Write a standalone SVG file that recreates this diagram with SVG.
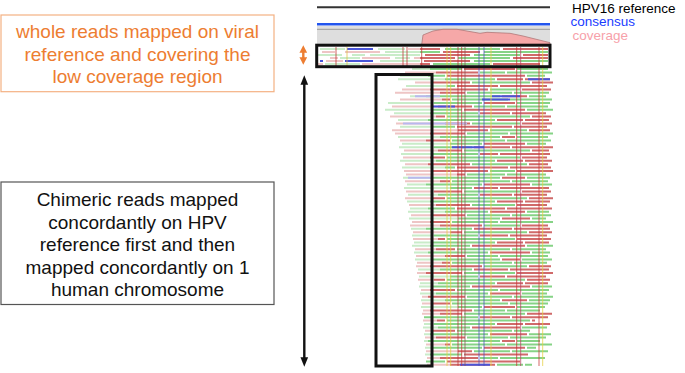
<svg xmlns="http://www.w3.org/2000/svg" width="685" height="373" viewBox="0 0 685 373">
<style>
.lbl{font-family:"Liberation Sans",Arial,sans-serif;font-size:19px;text-anchor:middle}
.leg{font-family:"Liberation Sans",Arial,sans-serif;font-size:13.5px}
.rd{fill:none;stroke-width:2}
.pg{stroke:#c9ecc9}.pr{stroke:#eec5c5}.g{stroke:#86d386}.r{stroke:#d06a6a}.b{stroke:#4a55d8}.pb{stroke:#b8b8ee}
.vl{stroke-width:1;opacity:0.75}
.hl{fill:none;stroke:#111;stroke-width:3}
</style>
<defs>
<marker id="ab" viewBox="0 0 10 10" refX="5" refY="5" markerWidth="4" markerHeight="4" orient="auto-start-reverse"><path d="M0,1 L10,5 L0,9 z" fill="#111"/></marker>
<marker id="ao" viewBox="0 0 10 10" refX="5" refY="5" markerWidth="3.2" markerHeight="3.2" orient="auto-start-reverse"><path d="M0,0 L10,5 L0,10 z" fill="#ED7D31"/></marker>
</defs>
<rect width="685" height="373" fill="#fff"/>

<g id="tracks">
<line x1="317" y1="7.3" x2="550" y2="7.3" stroke="#333" stroke-width="2"/>
<line x1="317" y1="24.3" x2="550" y2="24.3" stroke="#2255ee" stroke-width="2.6"/>
<rect x="317" y="26" width="233" height="18.5" fill="#dedede"/>
<line x1="317" y1="29.3" x2="550" y2="29.3" stroke="#999" stroke-width="1"/>
<path d="M421.7,44.5 L423,35 L433,31 L443,29.3 L457,29.3 L480,33.3 L487,32.3 L510,33.3 L523,36 L550,42.7 L550,44.5 Z" fill="#f6a8a8" stroke="#b07878" stroke-width="0.8"/>
<text class="leg" x="572" y="12.5" fill="#000">HPV16 reference</text>
<text class="leg" x="570.5" y="26" fill="#1a3cff">consensus</text>
<text class="leg" x="572.5" y="40" fill="#f7a1aa">coverage</text>
</g>

<g id="reads">
<path class="rd pg" d="M320 49H345M378 49H405M385 52H420M318 55H342M352 55H365M370 55H420M340 58H360M395 58H410M380 61H420M325 64H360
M412 69H430M400 75.8H428M398 79.2H445M406 86H447M410 96.2H426M388 103H434M385 109.8H431M394 113.2H430M398 120H428M400 126.8H432M398 137H440M402 143.8H450M399 147.2H434M401 154H431M400 160.8H436M402 167.6H445M403 177.8H430M407 184.6H426M404 188H450M408 194.8H438M407 201.6H430M410 208.4H428M408 211.8H445M409 218.6H458M411 228.8H426M412 235.6H434M414 242.4H431M412 245.8H430M414 252.6H428M415 259.4H432M418 269.6H440M419 276.4H450M420 283.2H438M419 286.6H431M420 293.4H436M421 300.2H445M421 307H458M424 324H434M423 327.4H438M424 334.2H430M424 341H428M425 347.8H432M425 354.6H430"/>
<path class="rd pr" d="M408 49H420M322 52H335M345 52H380M330 58H338M362 58H390M414 58H420M326 61H343M318 64H323M362 64H420
M405 72.4H436M415 82.6H432M402 89.4H430M395 92.8H440M400 99.6H442M392 106.4H438M390 116.6H436M396 123.4H445M392 130.2H458M395 133.6H430M400 140.4H426M404 150.6H438M403 157.4H430M405 164.2H428M404 171H432M406 174.4H457M405 181.2H440M406 191.4H434M405 198.2H431M409 205H436M411 215.2H432M412 222H430M410 225.4H440M413 232.2H450M413 239H438M415 249.2H436M416 256H445M417 262.8H442M416 266.2H430M417 273H426M418 279.8H434M421 290H430M422 296.8H428M422 303.6H432M423 310.4H430M422 313.8H440M423 320.6H437M425 330.8H431M425 337.6H436M426 344.4H445M426 351.2H458M427 358H440M427 364.8H450"/>
<path class="rd g" d="M445 49H500M420 52H440M484 52H548M474 55H520M458 58H510M474 61H548M433 64H490
M430 69H462M517 69H548M480 72.4H505M507 72.4H552M428 75.8H445M527 75.8H545M445 79.2H495M472 82.6H530M447 86H455M490 89.4H520M467 92.8H512M514 92.8H549M426 96.2H500M529 96.2H546M452 99.6H508M510 99.6H552
M434 103H482M517 103H550M474 106.4H505M507 106.4H548M431 109.8H462M527 109.8H553M430 113.2H478M447 116.6H530M428 120H495M472 123.4H520M432 126.8H455M490 130.2H527M467 133.6H508M510 133.6H553
M440 137H500M517 137H548M452 140.4H505M507 140.4H551M450 143.8H482M527 143.8H546M434 147.2H472M464 150.6H530M431 154H478M447 157.4H520M436 160.8H495M472 164.2H527M445 167.6H455
M490 171H515M467 174.4H505M507 174.4H546M430 177.8H500M527 177.8H550M452 181.2H510M512 181.2H548M426 184.6H482M532 184.6H552M450 188H472M464 191.4H520M438 194.8H478M447 198.2H527M430 201.6H495
M472 205H515M428 208.4H455M445 211.8H488M527 211.8H549M467 215.2H510M512 215.2H551M458 218.6H500M532 218.6H546M452 222H498M500 222H553M484 225.4H520M426 228.8H472M464 232.2H527M434 235.6H478
M447 239H515M431 242.4H495M430 245.8H470M527 245.8H553M457 249.2H510M512 249.2H546M428 252.6H488M532 252.6H550M467 256H498M500 256H548M432 259.4H500M522 259.4H552M452 262.8H512M514 262.8H547M484 266.2H527M440 269.6H472
M464 273H515M450 276.4H478M447 279.8H525M438 283.2H495M431 286.6H470M532 286.6H552M457 290H498M500 290H549M436 293.4H488M522 293.4H547M467 296.8H512M514 296.8H553M445 300.2H500M529 300.2H550M452 303.6H508M510 303.6H548
M458 307H482M517 307H545M474 310.4H505M507 310.4H540M464 313.8H525M424 317.2H478M447 320.6H530M434 324H495M438 327.4H470M522 327.4H547M457 330.8H512M514 330.8H530M430 334.2H488M529 334.2H551M467 337.6H508M510 337.6H546
M428 341H500M517 341H540M452 344.4H505M507 344.4H552M432 347.8H482M527 347.8H536M474 351.2H510M512 351.2H548M430 354.6H462M480 358H498M500 358H545M426 361.4H445M497 364.8H523M525 364.8H532"/>
<path class="rd r" d="M420 49H440M503 49H548M443 52H480M425 55H470M523 55H548M420 58H455M513 58H548M424 61H470M420 64H430M493 64H540
M464 69H515M436 72.4H478M447 75.8H525M497 79.2H523M525 79.2H550M432 82.6H470M532 82.6H553M457 86H498M500 86H547M430 89.4H488M522 89.4H551M440 92.8H465M502 96.2H527M442 99.6H450
M484 103H515M438 106.4H472M464 109.8H525M480 113.2H510M512 113.2H546M436 116.6H445M532 116.6H551M497 120H523M525 120H549M445 123.4H470M522 123.4H552M457 126.8H512M514 126.8H547M458 130.2H488M529 130.2H550M430 133.6H465
M502 137H515M426 140.4H450M484 143.8H525M474 147.2H510M512 147.2H553M438 150.6H462M532 150.6H549M480 154H498M500 154H550M430 157.4H445M522 157.4H547M497 160.8H523M525 160.8H552M428 164.2H470M529 164.2H548M457 167.6H508M510 167.6H551
M432 171H488M517 171H553M457 174.4H465M502 177.8H525M440 181.2H450M484 184.6H530M474 188H498M500 188H549M434 191.4H462M522 191.4H551M480 194.8H512M514 194.8H547M431 198.2H445M529 198.2H553M497 201.6H523M525 201.6H550
M436 205H470M517 205H547M457 208.4H505M507 208.4H552M490 211.8H525M432 215.2H465M502 218.6H530M430 222H450M440 225.4H482M522 225.4H548M474 228.8H512M514 228.8H550M450 232.2H462M529 232.2H552M480 235.6H508M510 235.6H547
M438 239H445M517 239H551M497 242.4H523M525 242.4H549M472 245.8H525M436 249.2H455M490 252.6H530M445 256H465M502 259.4H520M442 262.8H450M430 266.2H482M529 266.2H551M474 269.6H508M510 269.6H549
M426 273H462M517 273H553M480 276.4H505M507 276.4H546M434 279.8H445M527 279.8H550M497 283.2H523M525 283.2H548M472 286.6H530M430 290H455M490 293.4H520M428 296.8H465M502 300.2H527M432 303.6H450
M484 307H515M430 310.4H472M440 313.8H462M527 313.8H552M480 317.2H510M512 317.2H548M437 320.6H445M532 320.6H535M497 324H523M525 324H550M472 327.4H520M431 330.8H455M490 334.2H527M436 337.6H465
M502 341H515M445 344.4H450M484 347.8H525M458 351.2H472M464 354.6H528M440 358H478M447 361.4H520M450 364.8H495"/>
<path class="rd b" d="M347 49H373M320 61H323M345 61H373M528 79.2H550M492 96.2H520M482 99.6H510M433 106.4H455M452 147.2H484M460 364.8H490"/>
<path class="rd pb" d="M415 96.2H440M403 123.4H467M408 177.8H431"/>
</g>

<g id="mismatches">
<line class="vl" x1="336" y1="47" x2="336" y2="66" stroke="#c03030"/>
<line class="vl" x1="347" y1="47" x2="347" y2="66" stroke="#e0c040"/>
<line class="vl" x1="403" y1="47" x2="403" y2="66" stroke="#c03030"/>
<line class="vl" x1="407" y1="47" x2="407" y2="66" stroke="#c03030"/>
<line class="vl" x1="421.7" y1="47" x2="421.7" y2="66" stroke="#c03030"/>
<line class="vl" x1="447" y1="47" x2="447" y2="366" stroke="#e6d040"/>
<line class="vl" x1="450.7" y1="47" x2="450.7" y2="366" stroke="#e6d040"/>
<line class="vl" x1="458" y1="47" x2="458" y2="366" stroke="#b83030"/>
<line class="vl" x1="461.7" y1="47" x2="461.7" y2="366" stroke="#c83434"/>
<line class="vl" x1="465" y1="47" x2="465" y2="366" stroke="#905050"/>
<line class="vl" x1="479" y1="47" x2="479" y2="366" stroke="#4a50c0"/>
<line class="vl" x1="484" y1="47" x2="484" y2="366" stroke="#4a50c0"/>
<line class="vl" x1="491" y1="47" x2="491" y2="366" stroke="#e6d040"/>
<line class="vl" x1="516.7" y1="47" x2="516.7" y2="366" stroke="#c83434"/>
<line class="vl" x1="520.7" y1="47" x2="520.7" y2="366" stroke="#b84060"/>
<line class="vl" x1="539" y1="47" x2="539" y2="366" stroke="#c83434"/>
<line class="vl" x1="542.7" y1="47" x2="542.7" y2="366" stroke="#e6d040"/>
</g>

<g id="highlight-top"><rect class="hl" x="316.7" y="45.2" width="233.3" height="21.5"/></g>
<g id="highlight-chimeric"><rect class="hl" x="376" y="74.5" width="56" height="291.5"/></g>

<g id="node-whole-reads">
<rect x="1" y="15" width="273" height="76.7" fill="#fff" stroke="#F4B183" stroke-width="1.2"/>
<text class="lbl" fill="#ED7D31"><tspan x="137.5" y="38.3">whole reads mapped on viral</tspan><tspan x="137.5" y="60.8">reference and covering the</tspan><tspan x="137.5" y="83.2">low coverage region</tspan></text>
</g>

<g id="node-chimeric">
<rect x="1" y="182" width="273" height="122.5" fill="#fff" stroke="#555" stroke-width="1.2"/>
<text class="lbl" fill="#111"><tspan x="137.5" y="206">Chimeric reads mapped</tspan><tspan x="137.5" y="228.5">concordantly on HPV</tspan><tspan x="137.5" y="251">reference first and then</tspan><tspan x="137.5" y="273.5">mapped concordantly on 1</tspan><tspan x="137.5" y="296">human chromosome</tspan></text>
</g>

<g id="connectors">
<line x1="303.3" y1="49" x2="303.3" y2="61" stroke="#ED7D31" stroke-width="2.4" marker-start="url(#ao)" marker-end="url(#ao)"/>
<line x1="304.3" y1="80" x2="304.3" y2="362" stroke="#111" stroke-width="2.4" marker-start="url(#ab)" marker-end="url(#ab)"/>
</g>
</svg>
